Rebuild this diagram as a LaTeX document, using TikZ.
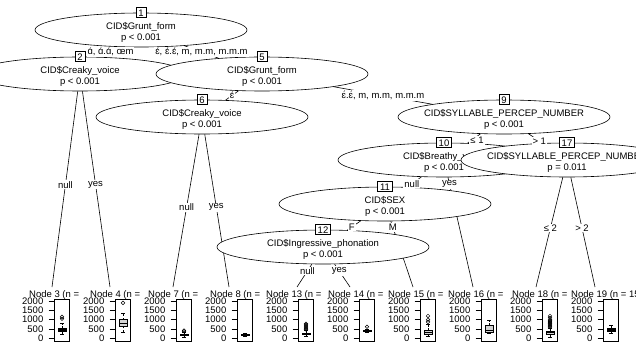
\documentclass[tikz,border=0pt]{standalone}
\usepackage{fontspec}
\setmainfont{Liberation Sans}
\usetikzlibrary{shapes.geometric}
\pgfdeclarelayer{background}
\pgfsetlayers{background,main}
\definecolor{boxgray}{HTML}{D3D3D3}
\newcommand{\treefont}{\fontsize{9.5}{11}\selectfont}
\tikzstyle{splitnode} = [ellipse, draw=black, line width=0.6pt, fill=white, minimum width=212pt, minimum height=34pt, inner sep=0pt]
\tikzstyle{splittext} = [align=center, font=\treefont, yshift=-2.2pt]
\tikzstyle{idbox} = [rectangle, draw=black, line width=0.6pt, fill=white, font=\treefont, inner xsep=2.5pt, inner ysep=1.6pt, text height=6.8pt, text depth=0pt]
\tikzstyle{branch} = [draw=black, line width=0.6pt]
\tikzstyle{branchlabel} = [fill=white, font=\treefont, inner xsep=1pt, inner ysep=1pt]
\tikzstyle{paneltitle} = [anchor=base west, inner sep=0pt, font=\treefont]
\tikzstyle{axislabel} = [anchor=east, inner sep=0pt, font=\treefont]
\tikzstyle{panelframe} = [draw=black, line width=0.6pt]
\tikzstyle{iqr} = [draw=black, line width=0.5pt, fill=boxgray]
\tikzstyle{medianline} = [draw=black, line width=1.2pt]
\tikzstyle{whisker} = [draw=black, line width=0.5pt, dash pattern=on 2pt off 1.5pt]
\tikzstyle{outlier} = [draw=black, line width=0.5pt]

% terminal boxplot panel
% #1 index, #2 title, #3 title x, #4 lower whisker, #5 q1, #6 median, #7 q3, #8 upper whisker, #9 outliers
\newcommand{\boxpanel}[9]{
  \pgfmathsetmacro{\panelx}{54.5+61*#1}
  \pgfmathsetmacro{\panelc}{\panelx+7.5}
  \node (title#1) [paneltitle] at (#3,297) {#2};
  \draw [panelframe] (\panelx,299) rectangle (\panelx+15,341.5);
  \foreach \v in {0,500,1000,1500,2000} {
    \draw [panelframe] (\panelx-6,{338.3-0.01865*\v}) -- (\panelx,{338.3-0.01865*\v});
    \node (tick#1-\v) [axislabel] at (\panelx-11,{338.3-0.01865*\v}) {\v};
  }
  \draw [whisker] (\panelc,{338.3-0.01865*#4}) -- (\panelc,{338.3-0.01865*#5});
  \draw [whisker] (\panelc,{338.3-0.01865*#7}) -- (\panelc,{338.3-0.01865*#8});
  \draw [outlier] (\panelc-1.9,{338.3-0.01865*#4}) -- (\panelc+1.9,{338.3-0.01865*#4});
  \draw [outlier] (\panelc-1.9,{338.3-0.01865*#8}) -- (\panelc+1.9,{338.3-0.01865*#8});
  \draw [iqr] (\panelc-3.75,{338.3-0.01865*#5}) rectangle (\panelc+3.75,{338.3-0.01865*#7});
  \draw [medianline] (\panelc-3.75,{338.3-0.01865*#6}) -- (\panelc+3.75,{338.3-0.01865*#6});
  \ifx\relax#9\relax\else
  \foreach \o in {#9} {\draw [outlier] (\panelc,{338.3-0.01865*\o}) circle (1.8pt);}
  \fi
}

\begin{document}
\begin{tikzpicture}[x=1pt, y=-1pt]
\useasboundingbox (0,0) rectangle (636,342);

% inner nodes
\node (n1) [splitnode, label={[splittext]center:{CID\$Grunt\_form\\p < 0.001}}] at (141,30) {};
\node (id1) [idbox] at (n1.north) {1};
\node (n2) [splitnode, label={[splittext]center:{CID\$Creaky\_voice\\p < 0.001}}] at (80,74) {};
\node (id2) [idbox] at (n2.north) {2};
\node (n5) [splitnode, label={[splittext]center:{CID\$Grunt\_form\\p < 0.001}}] at (262,74) {};
\node (id5) [idbox] at (n5.north) {5};
\node (n6) [splitnode, label={[splittext]center:{CID\$Creaky\_voice\\p < 0.001}}] at (202,117) {};
\node (id6) [idbox] at (n6.north) {6};
\node (n9) [splitnode, label={[splittext]center:{CID\$SYLLABLE\_PERCEP\_NUMBER\\p < 0.001}}] at (504,117) {};
\node (id9) [idbox] at (n9.north) {9};
\node (n10) [splitnode, label={[splittext]center:{CID\$Breathy\_voice\\p < 0.001}}] at (444,160) {};
\node (id10) [idbox] at (n10.north) {10};
\node (n11) [splitnode, label={[splittext]center:{CID\$SEX\\p < 0.001}}] at (385,204) {};
\node (id11) [idbox] at (n11.north) {11};
\node (n12) [splitnode, label={[splittext]center:{CID\$Ingressive\_phonation\\p < 0.001}}] at (323,247) {};
\node (id12) [idbox] at (n12.north) {12};
\node (n17) [splitnode, label={[splittext]center:{CID\$SYLLABLE\_PERCEP\_NUMBER\\p = 0.011}}] at (567,160) {};
\node (id17) [idbox] at (n17.north) {17};

% tops of the terminal panels
\coordinate (top3) at (52,287);
\coordinate (top4) at (110,287);
\coordinate (top7) at (173,287);
\coordinate (top8) at (229,287);
\coordinate (top13) at (297,287);
\coordinate (top14) at (350,287);
\coordinate (top15) at (413,287);
\coordinate (top16) at (473,287);
\coordinate (top18) at (536,287);
\coordinate (top19) at (595,287);

\begin{pgfonlayer}{background}
\draw [branch] (n1) -- (n2);
\draw [branch] (n1) -- (n5);
\draw [branch] (n2) -- (top3);
\draw [branch] (n2) -- (top4);
\draw [branch] (n5) -- (n6);
\draw [branch] (n5) -- (n9);
\draw [branch] (n6) -- (top7);
\draw [branch] (n6) -- (top8);
\draw [branch] (n9) -- (n10);
\draw [branch] (n9) -- (n17);
\draw [branch] (n10) -- (n11);
\draw [branch] (n10) -- (top16);
\draw [branch] (n11) -- (n12);
\draw [branch] (n11) -- (top15);
\draw [branch] (n12) -- (top13);
\draw [branch] (n12) -- (top14);
\draw [branch] (n17) -- (top18);
\draw [branch] (n17) -- (top19);
\end{pgfonlayer}

% edge labels
\path (n1.center) -- (n2.center) node (lab2) [branchlabel, pos=0.5] {ɑ́, ɑ́.ɑ́, œm};
\path (n1.center) -- (n5.center) node (lab5) [branchlabel, pos=0.5] {ɛ́, ɛ́.ɛ́, m, m.m, m.m.m};
\path (n2.center) -- (top3) node (lab3) [branchlabel, pos=0.52] {null};
\path (n2.center) -- (top4) node (lab4) [branchlabel, pos=0.52] {yes};
\path (n5.center) -- (n6.center) node (lab6) [branchlabel, pos=0.5] {ɛ́};
\path (n5.center) -- (n9.center) node (lab9) [branchlabel, pos=0.5] {ɛ́.ɛ́, m, m.m, m.m.m};
\path (n6.center) -- (top7) node (lab7) [branchlabel, pos=0.53] {null};
\path (n6.center) -- (top8) node (lab8) [branchlabel, pos=0.53] {yes};
\path (n9.center) -- (n10.center) node (lab10) [branchlabel, pos=0.55, xshift=6pt] {≤ 1};
\path (n9.center) -- (n17.center) node (lab17) [branchlabel, pos=0.56] {> 1};
\path (n10.center) -- (n11.center) node (lab11) [branchlabel, pos=0.545] {null};
\path (n10.center) -- (top16) node (lab16) [branchlabel, pos=0.19] {yes};
\path (n11.center) -- (n12.center) node (lab12) [branchlabel, pos=0.535] {F};
\path (n11.center) -- (top15) node (lab15) [branchlabel, pos=0.28] {M};
\path (n12.center) -- (top13) node (lab13) [branchlabel, pos=0.6] {null};
\path (n12.center) -- (top14) node (lab14) [branchlabel, pos=0.6] {yes};
\path (n17.center) -- (top18) node (lab18) [branchlabel, pos=0.535] {≤ 2};
\path (n17.center) -- (top19) node (lab19) [branchlabel, pos=0.535] {> 2};

% terminal panels
\boxpanel{0}{Node 3 (n =}{29}{230}{380}{450}{540}{800}{1050,1150}
\boxpanel{1}{Node 4 (n =}{90}{350}{650}{800}{1000}{1350}{1900}
\boxpanel{2}{Node 7 (n =}{148}{80}{150}{190}{230}{340}{380,420}
\boxpanel{3}{Node 8 (n =}{210}{130}{180}{200}{220}{260}{}
\boxpanel{4}{Node 13 (n =}{266}{100}{200}{240}{290}{420}{480,540,600,660,720,780}
\boxpanel{5}{Node 14 (n =}{328}{340}{370}{390}{420}{460}{620}
\boxpanel{6}{Node 15 (n =}{388}{100}{230}{300}{430}{750}{880,1000,1200}
\boxpanel{7}{Node 16 (n =}{448}{250}{300}{420}{720}{950}{}
\boxpanel{8}{Node 18 (n =}{512}{80}{220}{290}{370}{560}{600,650,700,750,800,850,900,950,1000,1100,1200}
\boxpanel{9}{Node 19 (n = 15}{571}{270}{360}{450}{560}{720}{}
\end{tikzpicture}
\end{document}
